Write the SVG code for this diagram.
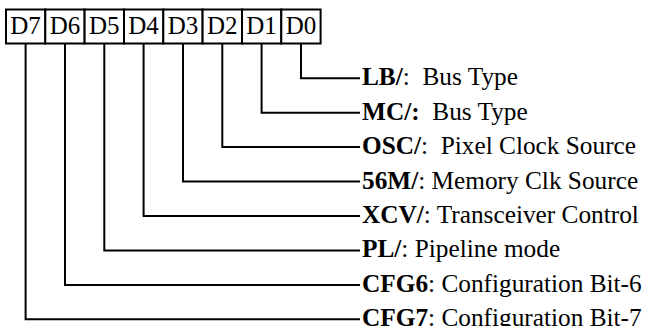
<svg xmlns="http://www.w3.org/2000/svg" width="645" height="326" viewBox="0 0 645 326">
<style>
.cell{fill:#fff;stroke:#000;stroke-width:2}
.ct{font-family:"Liberation Serif","Times New Roman",serif;font-size:25px;text-anchor:middle;fill:#000}
.lbl{font-family:"Liberation Serif","Times New Roman",serif;font-size:25.3px;fill:#000;white-space:pre}
.b{font-weight:bold}
.con{fill:none;stroke:#000;stroke-width:2}
</style>
<rect width="645" height="326" fill="#fff"/>
<g id="register">
<g id="D7"><rect class="cell" x="6" y="9.5" width="39.3" height="34"/><text class="ct" x="25.6" y="34">D7</text></g>
<g id="D6"><rect class="cell" x="45.3" y="9.5" width="39.3" height="34"/><text class="ct" x="65" y="34">D6</text></g>
<g id="D5"><rect class="cell" x="84.6" y="9.5" width="39.4" height="34"/><text class="ct" x="104.3" y="34">D5</text></g>
<g id="D4"><rect class="cell" x="124" y="9.5" width="39.3" height="34"/><text class="ct" x="143.6" y="34">D4</text></g>
<g id="D3"><rect class="cell" x="163.3" y="9.5" width="39.3" height="34"/><text class="ct" x="183" y="34">D3</text></g>
<g id="D2"><rect class="cell" x="202.6" y="9.5" width="39.4" height="34"/><text class="ct" x="222.3" y="34">D2</text></g>
<g id="D1"><rect class="cell" x="242" y="9.5" width="39.3" height="34"/><text class="ct" x="261.6" y="34">D1</text></g>
<g id="D0"><rect class="cell" x="281.3" y="9.5" width="39.3" height="34"/><text class="ct" x="301" y="34">D0</text></g>
</g>
<g id="connectors">
<path class="con" d="M301,43.5V78.3H360"/>
<path class="con" d="M261.6,43.5V112.7H360"/>
<path class="con" d="M222.3,43.5V147.1H360"/>
<path class="con" d="M183,43.5V181.6H360"/>
<path class="con" d="M143.6,43.5V216H360"/>
<path class="con" d="M104.3,43.5V250.4H360"/>
<path class="con" d="M65,43.5V284.9H360"/>
<path class="con" d="M25.6,43.5V319.3H360"/>
</g>
<g id="labels">
<g id="lbl-LB"><text class="lbl" x="362" y="85.3" xml:space="preserve"><tspan class="b">LB/</tspan>:  Bus Type</text></g>
<g id="lbl-MC"><text class="lbl" x="362" y="119.7" xml:space="preserve"><tspan class="b">MC/:</tspan>  Bus Type</text></g>
<g id="lbl-OSC"><text class="lbl" x="362" y="154.1" xml:space="preserve"><tspan class="b">OSC/</tspan>:  Pixel Clock Source</text></g>
<g id="lbl-56M"><text class="lbl" x="362" y="188.6" xml:space="preserve"><tspan class="b">56M/</tspan>: Memory Clk Source</text></g>
<g id="lbl-XCV"><text class="lbl" x="362" y="223" xml:space="preserve"><tspan class="b">XCV/</tspan>: Transceiver Control</text></g>
<g id="lbl-PL"><text class="lbl" x="362" y="257.4" xml:space="preserve"><tspan class="b">PL/</tspan>: Pipeline mode</text></g>
<g id="lbl-CFG6"><text class="lbl" x="362" y="291.9" xml:space="preserve"><tspan class="b">CFG6</tspan>: Configuration Bit-6</text></g>
<g id="lbl-CFG7"><text class="lbl" x="362" y="326" xml:space="preserve"><tspan class="b">CFG7</tspan>: Configuration Bit-7</text></g>
</g>
</svg>
